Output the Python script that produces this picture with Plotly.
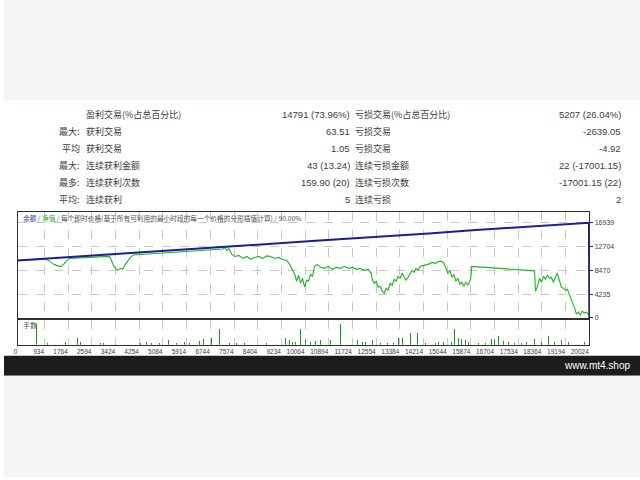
import plotly.graph_objects as go

# ---------------- data ----------------
row_lab = ["", "最大:", "平均", "最大:", "最多:", "平均:"]
win_lab = ["盈利交易(%占总百分比)", "获利交易", "获利交易", "连续获利金额", "连续获利次数", "连续获利"]
win_val = ["14791 (73.96%)", "63.51", "1.05", "43 (13.24)", "159.90 (20)", "5"]
loss_lab = ["亏损交易(%占总百分比)", "亏损交易", "亏损交易", "连续亏损金额", "连续亏损次数", "连续亏损"]
loss_val = ["5207 (26.04%)", "-2639.05", "-4.92", "22 (-17001.15)", "-17001.15 (22)", "2"]

chart_title_parts = ["余额", "净值", "每个即时价格(基于所有可利用的最小时段的每一个价格的分形插值计算)", "90.00%"]
lots_label = "手数"
footer_text = "www.mt4.shop"

x_ticks = [0, 934, 1764, 2594, 3424, 4254, 5084, 5914, 6744, 7574, 8404, 9234, 10064,
           10894, 11724, 12554, 13384, 14214, 15044, 15874, 16704, 17534, 18364, 19194, 20024]
y_ticks = [0, 4235, 8470, 12704, 16939]

balance_idx = [0, 1200, 2600, 3900, 5300, 6600, 7600, 8900, 10300, 11700, 13000,
               14400, 15800, 17200, 18500, 19600, 20010, 20024]
balance_val = [10237, 10620, 11130, 11520, 12030, 12420, 12800, 13190, 13700, 14130, 14610,
               15030, 15550, 15970, 16450, 16780, 16939, 0]

equity_idx = [0, 558, 977, 1116, 1256, 1395, 1500, 1604, 1709, 1814, 2302, 3000, 3209, 3279,
              3348, 3418, 3488, 3593, 3662, 3767, 3872, 3941, 4046, 5092, 6139, 7185, 7255,
              7325, 7395, 7499, 7604, 7743, 7883, 8022, 8162, 8301, 8441, 8580, 8720, 8860,
              8999, 9139, 9278, 9418, 9522, 9627, 9697, 9766, 9836, 9906, 9976, 10045, 10115,
              10185, 10255, 10324, 10394, 10499, 10604, 10743, 10883, 11022, 11162, 11301,
              11441, 11580, 11720, 11859, 11999, 12138, 12278, 12382, 12417, 12487, 12557,
              12627, 12696, 12766, 12836, 12906, 12975, 13045, 13115, 13185, 13254, 13324,
              13394, 13464, 13533, 13603, 13673, 13743, 13812, 13882, 13952, 14022, 14092,
              14231, 14371, 14510, 14650, 14754, 14859, 14929, 14998, 15068, 15138, 15208,
              15277, 15347, 15417, 15487, 15556, 15626, 15696, 15766, 15836, 15870, 15905,
              18103, 18138, 18207, 18277, 18347, 18417, 18486, 18556, 18626, 18696, 18765,
              18835, 18905, 18975, 19044, 19114, 19184, 19254, 19324, 19393, 19463, 19533,
              19568, 19637, 19707, 19777, 19847, 19916, 19986, 20021]
equity_val = [10237, 10414, 10502, 10061, 9531, 9266, 9178, 9531, 10237, 10590, 10678, 10855,
              10943, 10237, 9355, 8825, 8472, 8825, 8649, 9531, 10237, 10767, 11208, 11561,
              11914, 12268, 12532, 12002, 12355, 11296, 10943, 11120, 10590, 10943, 10414,
              10767, 10943, 10590, 11031, 10943, 10590, 10767, 10414, 10237, 9531, 8296,
              7766, 6531, 7590, 6178, 7060, 5472, 6707, 6531, 7766, 7413, 9178, 9531, 9002,
              8825, 9178, 8649, 9002, 8825, 9178, 8825, 9002, 8649, 8825, 8472, 8649, 7943,
              6884, 6178, 6531, 5472, 5648, 4766, 4413, 5295, 4942, 6178, 5825, 6884, 6531,
              7413, 7060, 7943, 7413, 6707, 7237, 7943, 8472, 8119, 8825, 8472, 9178, 9355,
              9531, 9884, 9708, 10061, 10061, 9708, 8825, 7943, 8472, 7237, 7766, 6531, 7060,
              6001, 6354, 5648, 6354, 5825, 6531, 7060, 9178, 8384, 4766, 5648, 7060, 6354,
              7413, 6884, 7590, 7060, 7237, 6354, 7237, 7943, 6707, 5472, 5295, 4942, 5118,
              4236, 3530, 2648, 1412, 706, 1059, 530, 1236, 883, 1059, 706, 530]

lots_idx = [638, 1022, 1510, 1664, 2093, 2208, 2885, 3000, 4280, 4510, 4684, 4977, 5267, 5556,
            5849, 6024, 6373, 6488, 6777, 7070, 7419, 7649, 7942, 8696, 9393, 9512, 9627,
            9742, 9916, 10091, 10265, 10440, 10614, 10963, 11312, 11894, 12068, 12184, 12417,
            12707, 12940, 13174, 13349, 13464, 13753, 13987, 14276, 14625, 14744, 14918,
            15208, 15302, 15441, 15556, 15672, 15790, 16139, 16369, 16603, 16718, 16837,
            17011, 17185, 17416, 17649, 17824, 18113, 18347, 18581, 18811, 19044, 19278,
            19627, 19857]
lots_val = [2.0, 0.21, 0.62, 0.31, 0.62, 0.31, 0.15, 0.21, 0.21, 0.31, 0.15, 0.21, 0.46, 0.21,
            0.31, 0.21, 0.40, 0.52, 0.62, 1.54, 0.21, 0.15, 0.21, 0.21, 0.62, 0.46, 0.31,
            0.31, 1.54, 0.46, 0.31, 0.40, 0.46, 0.46, 2.0, 0.46, 0.31, 0.31, 0.46, 0.15,
            0.21, 0.21, 0.62, 0.62, 1.14, 1.14, 0.15, 0.21, 0.31, 0.31, 0.31, 1.54, 0.62,
            0.52, 0.46, 0.31, 0.21, 0.15, 0.52, 0.46, 0.83, 0.40, 0.31, 0.21, 0.21, 0.31,
            0.52, 0.31, 0.83, 0.31, 0.46, 0.31, 1.14, 0.31]

# ---------------- layout helpers ----------------
W, H = 640, 480
def fx(px):
    return px / W
def fy(px):
    return 1 - px / H

X0, X1 = 14, 589          # plot left/right (px)
MAIN_T, MAIN_B = 213, 320  # main panel top/bottom
LOT_T, LOT_B = 322, 347    # lots panel top/bottom

TXT = "#3c3c3c"
GRID = "#c8c8c8"
CJK = "Noto Sans CJK SC"
LAT = "Liberation Sans"

fig = go.Figure()

fig.add_trace(go.Scatter(x=equity_idx, y=equity_val, mode="lines",
                         line=dict(color="#1fb41f", width=1.1),
                         xaxis="x", yaxis="y", hoverinfo="skip"))
fig.add_trace(go.Scatter(x=balance_idx, y=balance_val, mode="lines",
                         line=dict(color="#1c1c9c", width=2),
                         xaxis="x", yaxis="y", hoverinfo="skip"))
fig.add_trace(go.Bar(x=lots_idx, y=lots_val, width=34,
                     marker=dict(color="#12a012", line=dict(width=0)),
                     xaxis="x2", yaxis="y2", hoverinfo="skip"))

axis_common = dict(showline=True, mirror=True, linecolor="#303030", linewidth=1,
                   zeroline=False)

fig.update_layout(
    width=W, height=H,
    margin=dict(l=0, r=0, t=0, b=0),
    paper_bgcolor="white", plot_bgcolor="white",
    showlegend=False, bargap=0,
    xaxis=dict(domain=[fx(X0), fx(X1)], range=[0, 20024], anchor="y",
               tickvals=x_ticks, showticklabels=False, ticks="",
               showgrid=True, gridcolor=GRID, griddash="dash", gridwidth=1,
               **axis_common),
    yaxis=dict(domain=[fy(MAIN_B), fy(MAIN_T)], range=[0, 18900], anchor="x",
               side="right", tickvals=y_ticks, ticktext=[str(v) for v in y_ticks],
               ticks="outside", ticklen=3, tickcolor="#303030",
               tickfont=dict(family=LAT, size=7, color=TXT),
               showgrid=True, gridcolor=GRID, griddash="dash", gridwidth=1,
               **axis_common),
    xaxis2=dict(domain=[fx(X0), fx(X1)], range=[0, 20024], anchor="y2",
                tickvals=x_ticks, ticktext=[str(v) for v in x_ticks],
                ticklabelposition="outside left", ticks="", tickangle=0,
                tickfont=dict(family=LAT, size=6.5, color=TXT),
                showgrid=True, gridcolor=GRID, griddash="dash", gridwidth=1,
                **axis_common),
    yaxis2=dict(domain=[fy(LOT_B), fy(LOT_T)], range=[0, 2.35], anchor="x2",
                showticklabels=False, ticks="", showgrid=False,
                **axis_common),
)

# backgrounds
shapes = [
    dict(type="rect", xref="paper", yref="paper", x0=0, x1=1, y0=fy(101), y1=1,
         fillcolor="#f4f5f7", line=dict(width=0), layer="below"),
    dict(type="rect", xref="paper", yref="paper", x0=0, x1=1, y0=fy(378), y1=fy(358),
         fillcolor="#1c1c1c", line=dict(width=0), layer="below"),
    dict(type="rect", xref="paper", yref="paper", x0=0, x1=1, y0=0, y1=fy(378),
         fillcolor="#f4f5f7", line=dict(width=0), layer="below"),
]
fig.update_layout(shapes=shapes)

ann = []
row_y0, row_dy = 115, 17.2
for i in range(len(win_lab)):
    y = fy(row_y0 + i * row_dy)
    common = dict(xref="paper", yref="paper", y=y, yanchor="middle", showarrow=False)
    if row_lab[i]:
        ann.append(dict(x=fx(78), xanchor="right", text=row_lab[i],
                        font=dict(family=CJK, size=9, color=TXT), **common))
    ann.append(dict(x=fx(80), xanchor="left", text=win_lab[i],
                    font=dict(family=CJK, size=9, color=TXT), **common))
    ann.append(dict(x=fx(350), xanchor="right", text=win_val[i],
                    font=dict(family=LAT, size=9.5, color=TXT), **common))
    ann.append(dict(x=fx(351), xanchor="left", text=loss_lab[i],
                    font=dict(family=CJK, size=9, color=TXT), **common))
    ann.append(dict(x=fx(623), xanchor="right", text=loss_val[i],
                    font=dict(family=LAT, size=9.5, color=TXT), **common))

title = ('<span style="color:#2a3a9a">%s</span> / <span style="color:#22b022">%s</span> / %s / %s'
         % tuple(chart_title_parts))
ann.append(dict(xref="paper", yref="paper", x=fx(17), y=fy(219), xanchor="left",
                yanchor="middle", text=title, showarrow=False,
                font=dict(family=CJK, size=6.7, color="#505050")))
ann.append(dict(xref="paper", yref="paper", x=fx(17), y=fy(327.5), xanchor="left",
                yanchor="middle", text=lots_label, showarrow=False,
                font=dict(family=CJK, size=7, color="#505050")))
ann.append(dict(xref="paper", yref="paper", x=fx(632), y=fy(368), xanchor="right",
                yanchor="middle", text=footer_text, showarrow=False,
                font=dict(family=LAT, size=10, color="white")))
fig.update_layout(annotations=ann)

fig.write_html("out.html", config={"displayModeBar": False, "staticPlot": True},
               post_script="document.body.style.margin='0';document.body.style.overflow='hidden';")
